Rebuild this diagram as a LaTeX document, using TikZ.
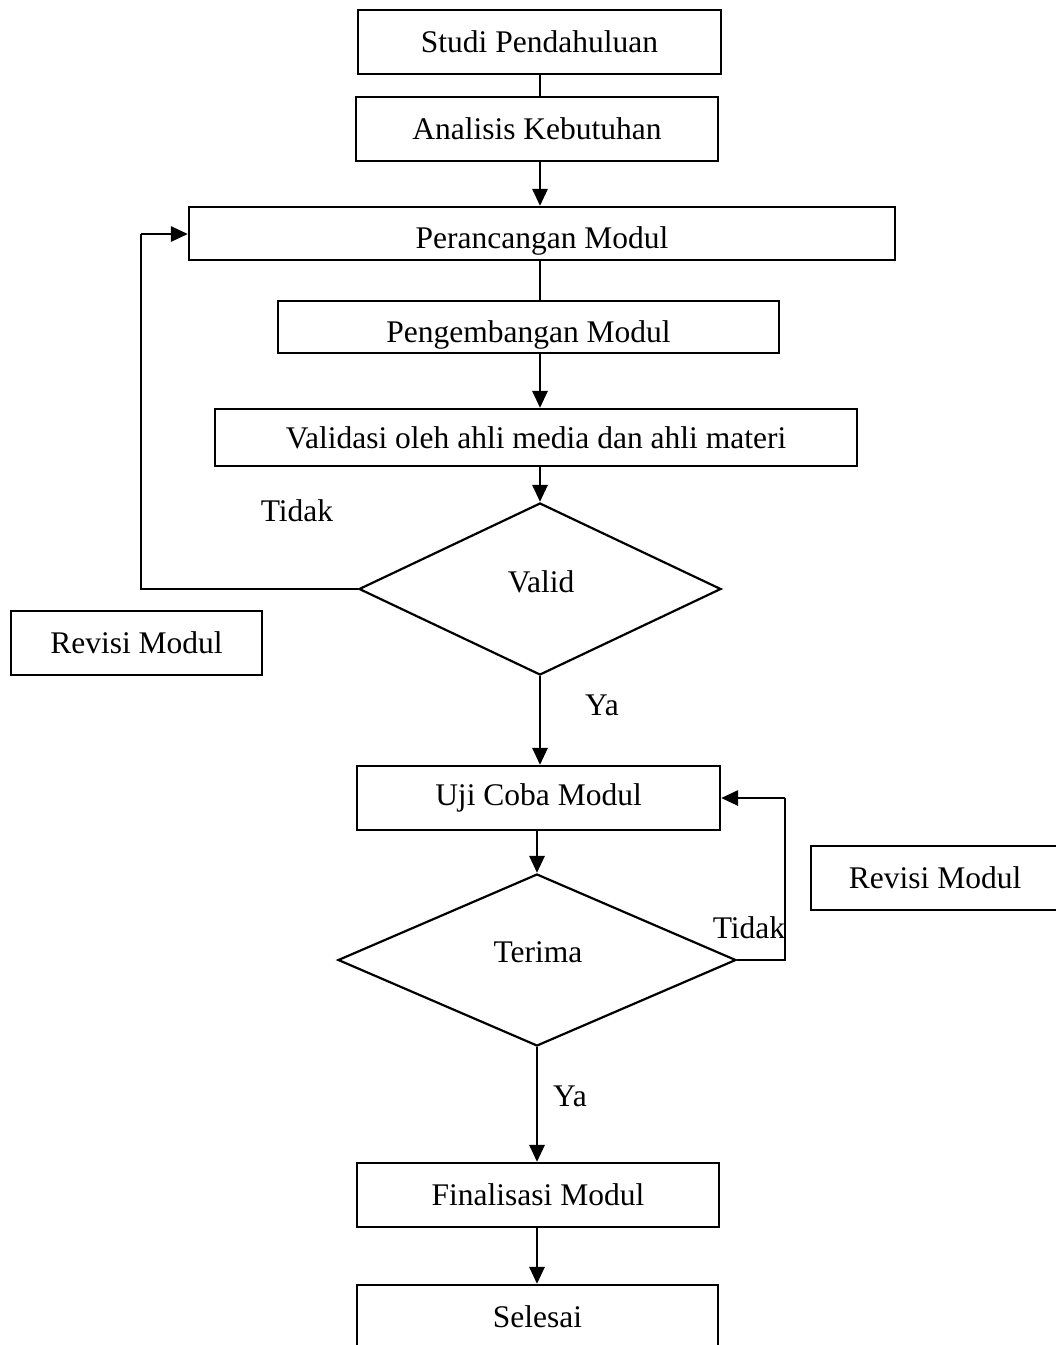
\documentclass[tikz,border=0pt]{standalone}
\usepackage{fontspec}
\setmainfont{Liberation Serif}
\usetikzlibrary{shapes.geometric,arrows.meta}
\begin{document}
\begin{tikzpicture}[x=1pt,y=-1pt,
  font=\fontsize{31.5pt}{36pt}\selectfont,
  box/.style={draw, line width=2.2pt, inner sep=0pt, rectangle},
  dec/.style={draw, line width=2.2pt, inner sep=0pt, diamond},
  lbl/.style={inner sep=0pt},
  conn/.style={line width=2.8pt},
  arr/.style={line width=2.8pt, -{Triangle[length=17pt,width=15pt]}}]
\useasboundingbox (0,0) rectangle (1056,1345);
\node[box, minimum width=363pt, minimum height=64pt] (studi) at (539.5,42) {Studi Pendahuluan};
\node[box, minimum width=362pt, minimum height=64pt] (anal) at (537,129) {Analisis Kebutuhan};
\node[box, minimum width=706pt, minimum height=53pt, text depth=0pt, text height=30pt] (peran) at (542,233.5) {Perancangan Modul};
\node[box, minimum width=501pt, minimum height=52pt, text depth=0pt, text height=30pt] (pengem) at (528.5,327) {Pengembangan Modul};
\node[box, minimum width=642pt, minimum height=57pt] (valid) at (536,437.5) {Validasi oleh ahli media dan ahli materi};
\node[dec, minimum width=362pt, minimum height=172pt] (dv) at (540,589) {};
\node[lbl] (dvt) at (541,582) {Valid};
\node[box, minimum width=251pt, minimum height=64pt] (rev1) at (136.5,643) {Revisi Modul};
\node[lbl] (tid1) at (297,511) {Tidak};
\node[lbl] (ya1) at (602,705) {Ya};
\node[box, minimum width=363pt, minimum height=64pt] (uji) at (538.5,798) {Uji Coba Modul};
\node[dec, minimum width=398pt, minimum height=172pt] (dt) at (537,960) {};
\node[lbl] (dtt) at (538,952) {Terima};
\node[box, minimum width=270pt, minimum height=64pt, anchor=west] (rev2) at (810,878) {\hspace*{-22pt}Revisi Modul};
\node[lbl] (tid2) at (749,928) {Tidak};
\node[lbl] (ya2) at (570,1096) {Ya};
\node[box, minimum width=362pt, minimum height=64pt] (fin) at (538,1195) {Finalisasi Modul};
\node[box, minimum width=361pt, minimum height=64pt] (sel) at (537.5,1317) {Selesai};
\coordinate (c1) at (141,589);
\coordinate (c2) at (141,234);
\coordinate (c3) at (785,960);
\coordinate (c4) at (785,798);
\coordinate (col) at (540,0);
\draw[conn] (studi.south -| col) -- (anal.north -| col);
\draw[arr] (anal.south -| col) -- (peran.north -| col);
\draw[conn] (peran.south -| col) -- (pengem.north -| col);
\draw[arr] (pengem.south -| col) -- (valid.north -| col);
\draw[arr] (valid.south -| dv.north) -- (dv.north);
\draw[conn] (dv.west) -- (c1) -- (c2);
\draw[arr] (c2) -- (peran.west |- c2);
\draw[arr] (dv.south) -- (uji.north -| dv.south);
\draw[arr] (uji.south -| dt.north) -- (dt.north);
\draw[conn] (dt.east) -- (c3) -- (c4);
\draw[arr] (c4) -- (uji.east |- c4);
\draw[arr] (dt.south) -- (fin.north -| dt.south);
\draw[arr] (fin.south -| dt.south) -- (sel.north -| dt.south);
\end{tikzpicture}
\end{document}
